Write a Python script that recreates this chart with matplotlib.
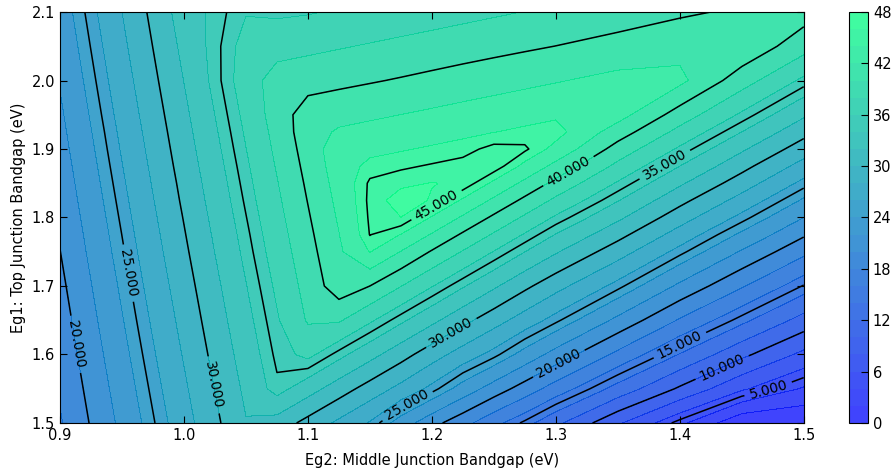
import numpy as np
import matplotlib
matplotlib.use("Agg")
import matplotlib.pyplot as plt
from matplotlib.ticker import FormatStrFormatter

# grid: Eg2 (middle junction) along x, Eg1 (top junction) along y
eg2 = [0.90, 0.95, 1.00, 1.05, 1.075, 1.10, 1.125, 1.15, 1.175, 1.20,
       1.225, 1.25, 1.275, 1.30, 1.35, 1.40, 1.45, 1.50]
eg1 = [1.50, 1.55, 1.60, 1.65, 1.70, 1.75, 1.775, 1.80, 1.825, 1.85,
       1.875, 1.90, 1.925, 1.95, 2.00, 2.05, 2.10]

# efficiency (%), one row per eg2 value, running over eg1
efficiency = [
    [17.8, 18.23, 18.67, 19.1, 19.53, 19.97, 20.18, 20.4, 20.62, 20.83, 21.05, 21.27, 21.48, 21.7, 22.14, 22.57, 23.0],
    [22.5, 22.96, 23.42, 23.88, 24.33, 24.8, 25.02, 25.25, 25.48, 25.71, 25.94, 26.17, 26.39, 26.63, 27.09, 27.55, 28.0],
    [27.2, 27.68, 28.17, 28.65, 29.13, 29.62, 29.86, 30.1, 30.35, 30.58, 30.83, 31.07, 31.31, 31.55, 32.04, 32.52, 33.0],
    [31.9, 32.41, 32.92, 33.43, 33.93, 34.45, 34.69, 34.95, 35.21, 35.46, 35.71, 35.97, 36.22, 36.48, 36.99, 36.7, 35.9],
    [31.16, 34.73, 35.3, 35.81, 36.33, 36.86, 37.11, 37.38, 37.64, 37.89, 38.16, 38.42, 38.67, 38.94, 38.9, 37.23, 35.7],
    [29.34, 32.86, 36.48, 38.2, 38.73, 39.27, 39.53, 39.8, 40.07, 40.33, 40.6, 40.87, 41.13, 40.99, 39.21, 37.54, 35.86],
    [27.58, 30.98, 34.55, 38.24, 41.13, 41.68, 41.95, 42.23, 42.5, 42.77, 43.04, 43.18, 42.25, 41.33, 39.53, 37.85, 36.17],
    [25.83, 29.17, 32.68, 36.3, 40.0, 44.07, 45.05, 45.2, 45.3, 45.21, 44.45, 43.52, 42.6, 41.67, 39.84, 38.16, 36.48],
    [23.1, 27.42, 30.8, 34.37, 38.06, 41.93, 43.96, 45.99, 46.64, 45.71, 44.79, 43.86, 42.94, 42.01, 40.16, 38.47, 36.8],
    [20.7, 25.5, 28.9, 32.5, 36.1, 39.82, 41.83, 43.86, 45.89, 46.05, 45.13, 44.2, 43.28, 42.35, 40.5, 38.78, 37.1],
    [18.7, 23.2, 27.1, 30.62, 34.19, 37.87, 39.72, 41.73, 43.76, 45.8, 45.47, 44.55, 43.62, 42.7, 40.85, 39.09, 37.42],
    [16.6, 21.1, 25.4, 28.84, 32.32, 35.93, 37.78, 39.63, 41.63, 43.66, 45.69, 45.4, 43.96, 43.04, 41.19, 39.4, 37.73],
    [14.7, 19.1, 23.3, 27.08, 30.45, 34.02, 35.83, 37.69, 39.54, 41.52, 43.56, 45.23, 44.31, 43.38, 41.53, 39.71, 38.04],
    [12.5, 17.1, 21.25, 25.3, 28.7, 32.2, 33.93, 35.74, 37.59, 39.44, 41.42, 43.46, 44.65, 43.72, 41.87, 40.02, 38.35],
    [8.3, 13.3, 17.5, 21.5, 25.4, 28.9, 30.65, 32.4, 34.1, 35.8, 37.5, 39.2, 41.0, 42.8, 42.56, 40.71, 38.97],
    [4.5, 9.7, 13.9, 17.8, 21.6, 25.4, 27.15, 28.9, 30.6, 32.3, 34.0, 35.7, 37.4, 39.1, 42.5, 41.37, 39.7],
    [0.4, 6.3, 10.5, 14.5, 18.2, 21.8, 23.65, 25.5, 27.25, 29.0, 30.65, 32.3, 34.0, 35.7, 38.9, 41.6, 40.3],
    [0.1, 3.8, 7.5, 11.25, 14.9, 18.5, 20.25, 22.0, 23.75, 25.5, 27.25, 29.0, 30.65, 32.3, 35.6, 38.8, 40.91],
]

fill_levels = np.arange(0, 50, 2)
line_levels = np.arange(5, 50, 5)
cbar_ticks = np.arange(0, 49, 6)

# where the inline labels sit (eg2, eg1)
label_spots = [(1.206, 1.811), (1.314, 1.855), (1.388, 1.877), (1.219, 1.621),
               (1.181, 1.522), (1.301, 1.592), (1.40, 1.614), (1.437, 1.57),
               (1.473, 1.537), (0.959, 1.72), (0.91, 1.614), (1.031, 1.558)]

X, Y = np.meshgrid(eg2, eg1)
Z = np.array(efficiency).T

fig = plt.figure(figsize=(8.96, 4.71), dpi=100)
ax = fig.add_axes([0.067, 0.102, 0.83, 0.8725])
cax = fig.add_axes([0.9475, 0.102, 0.0212, 0.8725])

cf = ax.contourf(X, Y, Z, levels=fill_levels, cmap='winter', alpha=0.75)
cs = ax.contour(X, Y, Z, levels=line_levels, colors='k', linewidths=1.1)
ax.clabel(cs, fmt='%1.3f', fontsize=10, manual=label_spots)

ax.set_xlim(0.9, 1.5)
ax.set_ylim(1.5, 2.1)
ax.set_xticks(np.arange(0.9, 1.51, 0.1))
ax.set_yticks(np.arange(1.5, 2.11, 0.1))
ax.xaxis.set_major_formatter(FormatStrFormatter('%.1f'))
ax.yaxis.set_major_formatter(FormatStrFormatter('%.1f'))
ax.tick_params(direction='in', top=True, right=True, length=5, labelsize=10.5)
ax.set_xlabel('Eg2: Middle Junction Bandgap (eV)', fontsize=10.5, labelpad=7)
ax.set_ylabel('Eg1: Top Junction Bandgap (eV)', fontsize=10.5)

cb = fig.colorbar(cf, cax=cax, ticks=cbar_ticks)
cb.ax.tick_params(direction='in', length=5, labelsize=10.5)

fig.savefig('out.png', dpi=100)
